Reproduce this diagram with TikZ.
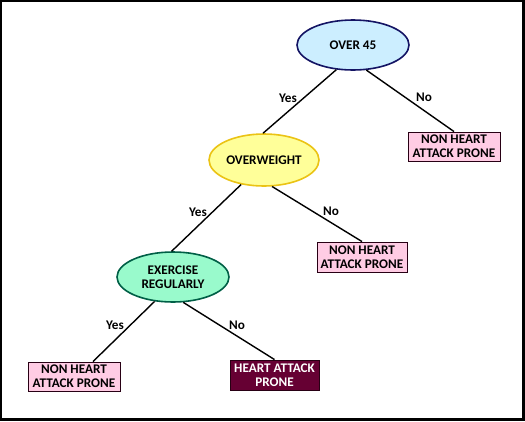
\documentclass[tikz,border=0pt]{standalone}
\usepackage{fontspec}
\setmainfont{Carlito}
\usetikzlibrary{shapes.geometric,calc}
\definecolor{bluefill}{RGB}{204,238,255}
\definecolor{blueline}{RGB}{20,20,100}
\definecolor{yelfill}{RGB}{255,255,153}
\definecolor{yelline}{RGB}{235,195,20}
\definecolor{grnfill}{RGB}{153,250,204}
\definecolor{grnline}{RGB}{0,95,70}
\definecolor{pinkfill}{RGB}{255,204,228}
\definecolor{boxline}{RGB}{40,0,20}
\definecolor{maroon}{RGB}{102,0,51}
\tikzset{
  txt/.style={font=\fontsize{13.2}{13.8}\selectfont\bfseries, align=center},
  decision/.style={txt, ellipse, inner sep=0pt, line width=1.6pt},
  leafbox/.style={txt, rectangle, inner sep=0pt, draw=boxline, line width=0.9pt, fill=pinkfill},
  edgeline/.style={line width=1.4pt, black},
  lbl/.style={txt, inner sep=0pt}
}
\begin{document}
\begin{tikzpicture}[x=1pt,y=-1pt]
\useasboundingbox (0,0) rectangle (525,421);
\fill[black] (0,0) rectangle (525,421);
\fill[white] (2,2) rectangle (522,418);

\node[decision, fill=bluefill, draw=blueline, minimum width=112pt, minimum height=50pt] (o45) at (353,45) {OVER 45};
\node[decision, fill=yelfill, draw=yelline, minimum width=110pt, minimum height=52pt] (ow) at (264,160) {OVERWEIGHT};
\node[decision, fill=grnfill, draw=grnline, minimum width=112pt, minimum height=50pt] (ex) at (173,277) {EXERCISE\\REGULARLY};

\node[leafbox, minimum width=92pt, minimum height=29pt] (nh1) at (454,146.5) {NON HEART\\ATTACK PRONE};
\node[leafbox, minimum width=90pt, minimum height=30pt] (nh2) at (362,257) {NON HEART\\ATTACK PRONE};
\node[leafbox, minimum width=92pt, minimum height=29pt] (nh3) at (74,376.5) {NON HEART\\ATTACK PRONE};
\node[leafbox, fill=maroon, text=white, minimum width=89pt, minimum height=30pt] (ha) at (274.5,375) {HEART ATTACK\\PRONE};

\draw[edgeline] (o45.236) -- (ow.92);
\draw[edgeline] (o45.298) -- (nh1.north);
\draw[edgeline] (ow.227) -- (ex.93);
\draw[edgeline] (ow.287) -- (nh2.north);
\draw[edgeline] (ex.233) -- ($(nh3.north)+(19,0)$);
\draw[edgeline] (ex.292) -- (ha.north);

\node[lbl] (y1) at (288,98) {Yes};
\node[lbl] (n1) at (424,97) {No};
\node[lbl] (y2) at (198,212) {Yes};
\node[lbl] (n2) at (331,211) {No};
\node[lbl] (y3) at (115,325) {Yes};
\node[lbl] (n3) at (237,325) {No};
\end{tikzpicture}
\end{document}
